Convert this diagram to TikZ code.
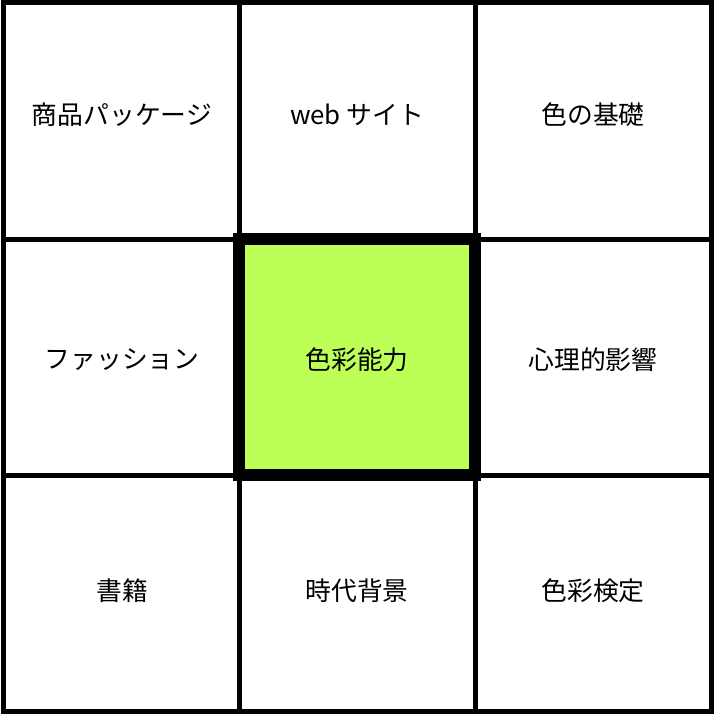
\documentclass[tikz,border=0pt]{standalone}
\usepackage{fontspec}
\setmainfont{Noto Sans CJK JP}
\definecolor{limegreen}{RGB}{187,255,87}

\begin{document}
\begin{tikzpicture}[x=1pt,y=1pt,yscale=-1,xscale=1]
\useasboundingbox (0,0) rectangle (714,714);

%Center Cell Fill
\fill[limegreen] (239,239) rectangle (475,475);
%Outer Frame
\draw[line width=5] (3,3) rectangle (711,711);
%Straight Lines
\draw[line width=5] (239,3) -- (239,711);
\draw[line width=5] (475,3) -- (475,711);
\draw[line width=5] (3,239) -- (711,239);
\draw[line width=5] (3,475) -- (711,475);
%Center Cell Frame
\draw[line width=12] (239,239) rectangle (475,475);

% Text Node
\node[font=\fontsize{25.8}{30}\selectfont] (goods) at (122,115) {商品パッケージ};
% Text Node
\node[font=\fontsize{25.8}{30}\selectfont] (web) at (357,115) {web サイト};
% Text Node
\node[font=\fontsize{25.8}{30}\selectfont] (basics) at (593,115) {色の基礎};
% Text Node
\node[font=\fontsize{25.8}{30}\selectfont] (fashion) at (122,360) {ファッション};
% Text Node
\node[font=\fontsize{25.8}{30}\selectfont] (center) at (357,360) {色彩能力};
% Text Node
\node[font=\fontsize{25.8}{30}\selectfont] (psych) at (593,360) {心理的影響};
% Text Node
\node[font=\fontsize{25.8}{30}\selectfont] (books) at (122,591) {書籍};
% Text Node
\node[font=\fontsize{25.8}{30}\selectfont] (history) at (357,591) {時代背景};
% Text Node
\node[font=\fontsize{25.8}{30}\selectfont] (exam) at (593,591) {色彩検定};

\end{tikzpicture}
\end{document}
